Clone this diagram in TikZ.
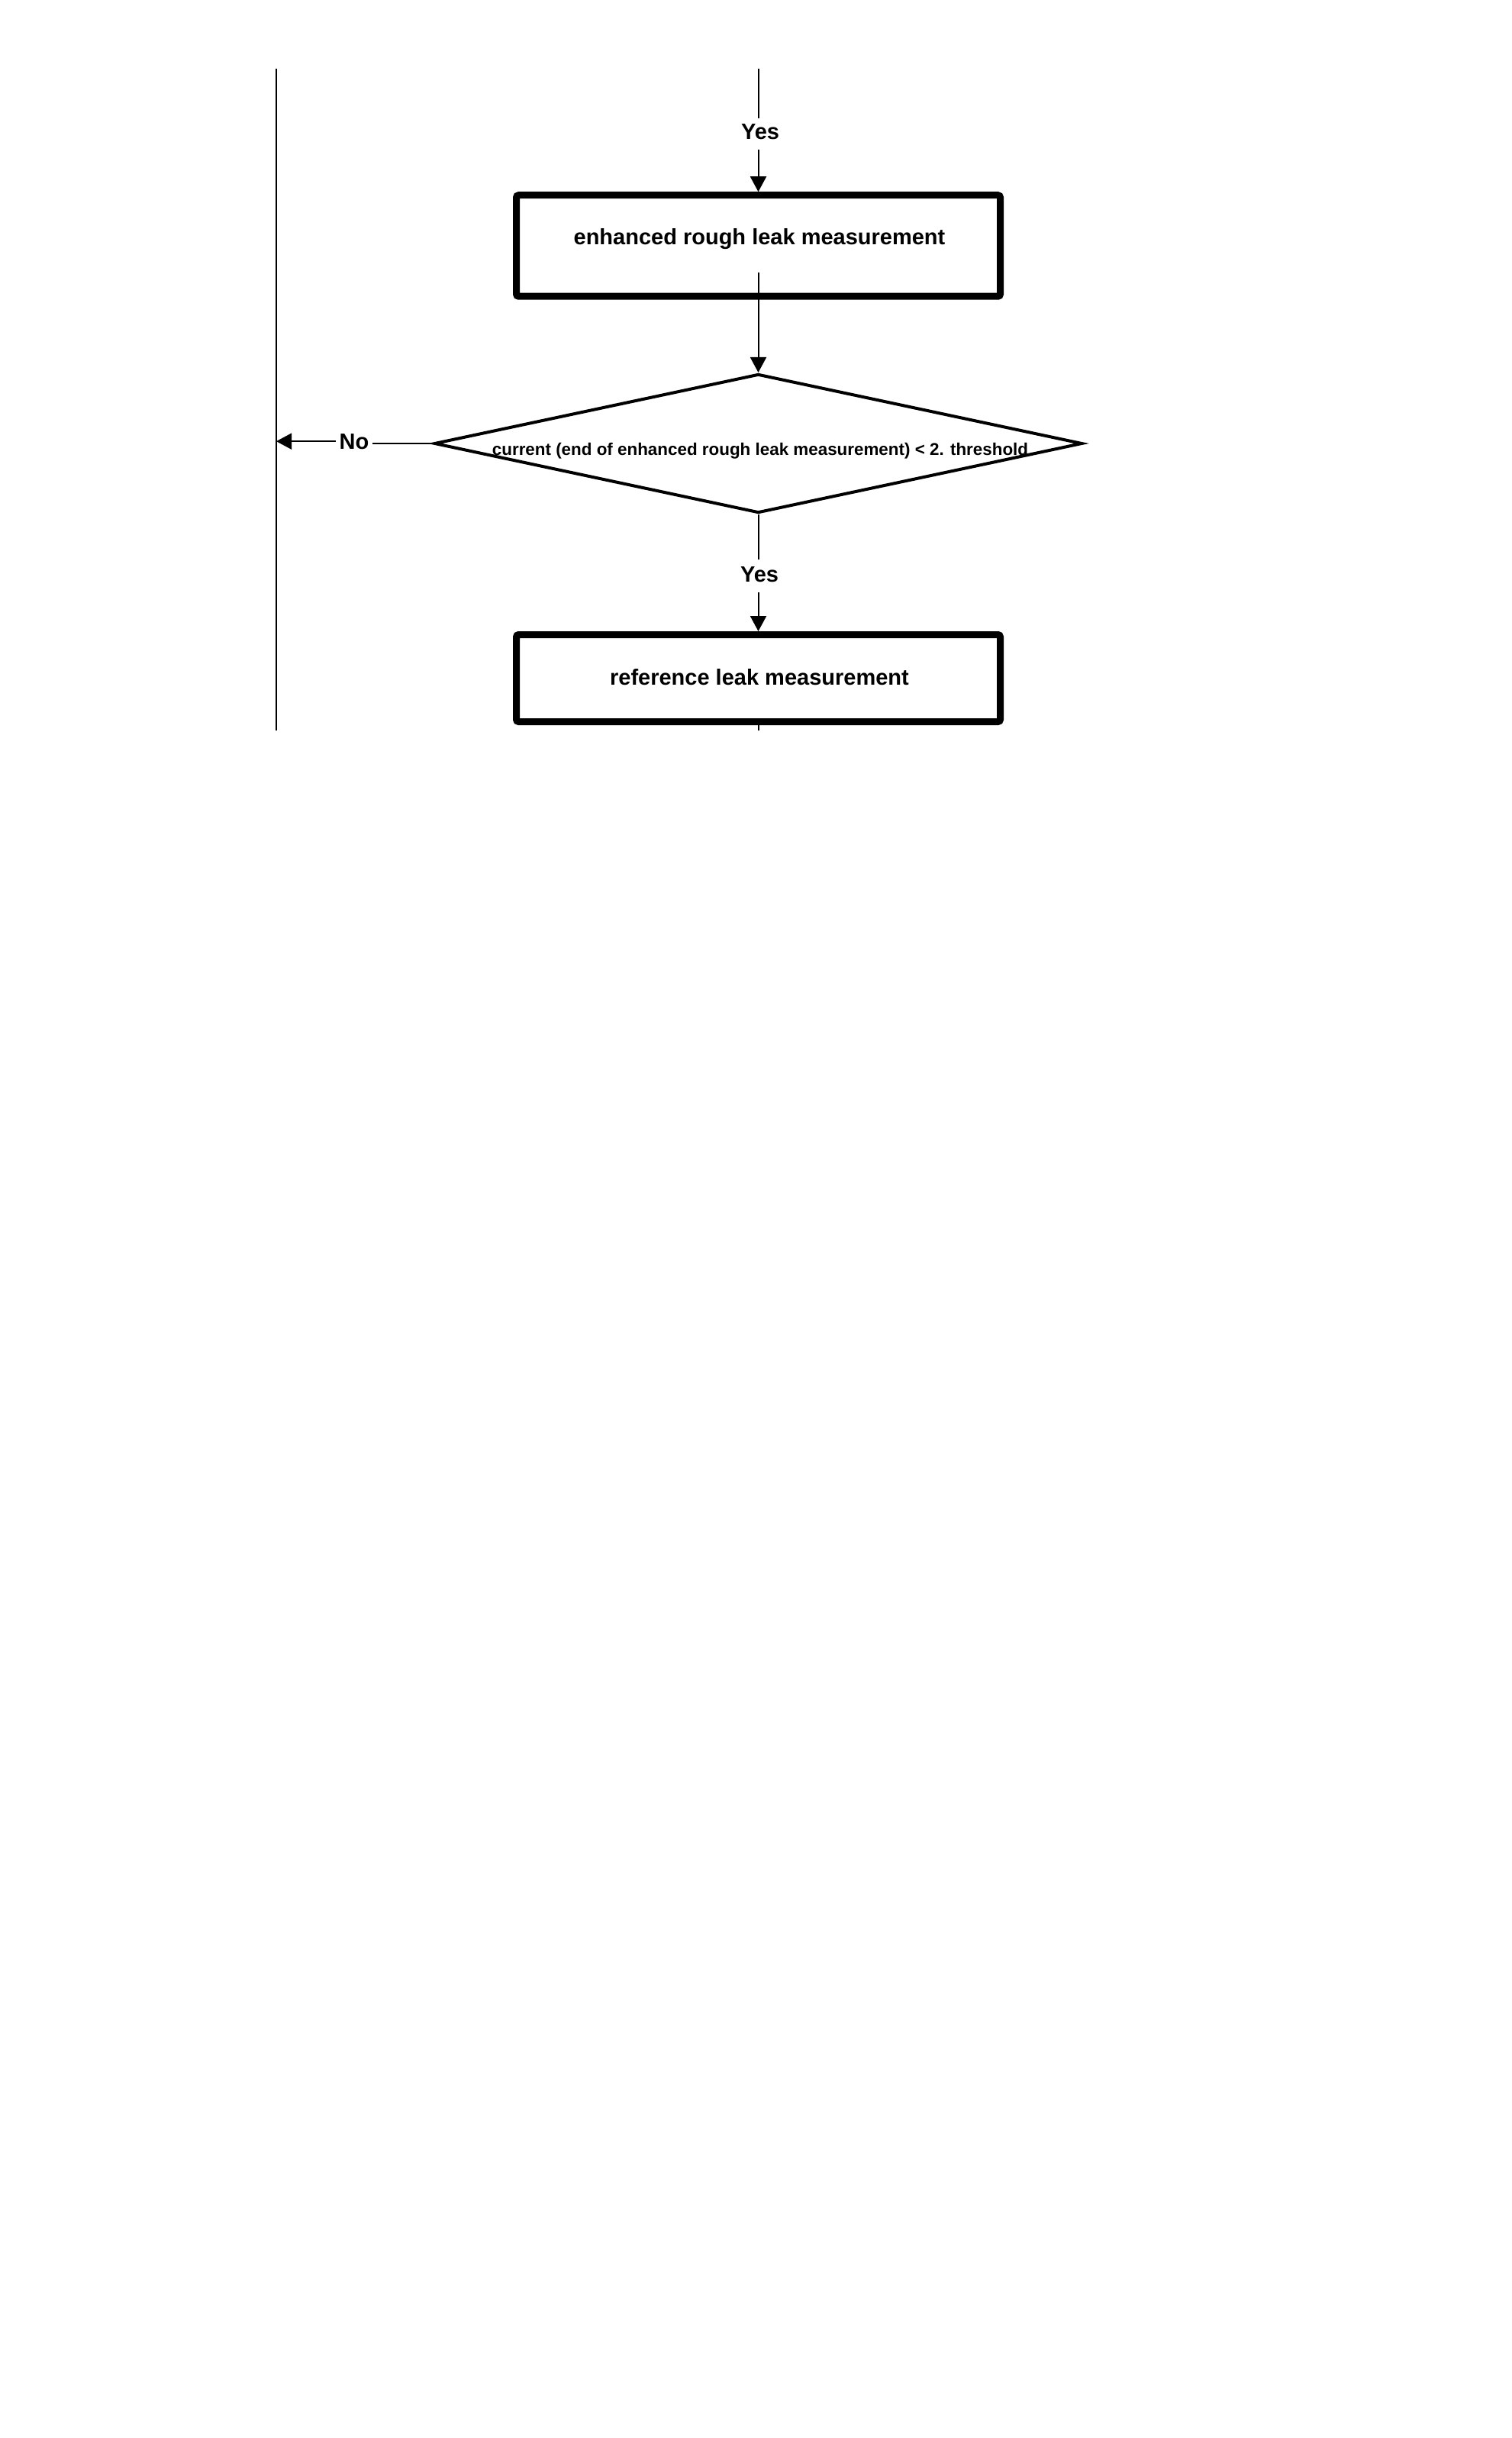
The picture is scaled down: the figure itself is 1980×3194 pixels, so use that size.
\documentclass[tikz,border=0pt]{standalone}
\usepackage{fontspec}
\setmainfont{Liberation Sans}
\usetikzlibrary{arrows.meta,shapes.geometric,calc}
\begin{document}
\begin{tikzpicture}[x=0.5pt,y=-0.5pt,
  conn/.style={line width=1pt},
  arr/.style={conn,-{Triangle[length=10pt,width=10.5pt]}},
  procbox/.style={draw,line width=4.5pt,rectangle,rounded corners=1.5pt,minimum width=317pt,inner sep=0pt,fill=white},
  decis/.style={draw,line width=2pt,diamond,minimum width=424.5pt,minimum height=91pt,inner sep=0pt,aspect=4.66},
  big/.style={font=\fontsize{14.5pt}{17pt}\selectfont\bfseries,inner sep=0pt},
  small/.style={font=\fontsize{11.2pt}{13pt}\selectfont\bfseries,inner sep=0pt},
]
\useasboundingbox[fill=white] (0,0) rectangle (1980,3194);

% nodes
\node[procbox,minimum height=66.25pt] (box1) at (993.5,322) {};
\node[big,anchor=base] (t1) at (995,321) {enhanced rough leak measurement};
\node[decis] (d) at (993.5,581) {};
\node[small,anchor=base] (t2) at (996,596) {current (end of enhanced rough leak measurement) < 2. threshold};
\node[procbox,minimum height=57pt] (box2) at (993.5,888.5) {};
\node[big,anchor=base] (t3) at (995,897) {reference leak measurement};
\node[big,anchor=base] (yes1) at (996,183) {Yes};
\node[big,anchor=base] (yes2) at (995,762) {Yes};
\node[big,anchor=base,inner xsep=2pt] (no) at (464,588) {No};

\coordinate (top) at (993.5,90);
\coordinate (ltop) at (362,90);
\coordinate (lbot) at (362,957);
\coordinate (bend) at (993.5,957);
\coordinate (b1in) at (993.5,357);

% connectors
\draw[conn] (ltop) -- (lbot);
\draw[conn] (top) -- ($(yes1.north -| top)+(0,-8)$);
\draw[arr] ($(yes1.south -| top)+(0,12)$) -- (box1.north);
\draw[arr] (b1in) -- (d.north);
\draw[conn] (d.south) -- ($(yes2.north -| top)+(0,-9)$);
\draw[arr] ($(yes2.south -| top)+(0,13)$) -- (box2.north);
\draw[conn] (box2.south) -- (bend);
\draw[conn] (d.west) -- (d.west -| no.east);
\draw[arr] (no.west) -- (no.west -| ltop);
\end{tikzpicture}
\end{document}
